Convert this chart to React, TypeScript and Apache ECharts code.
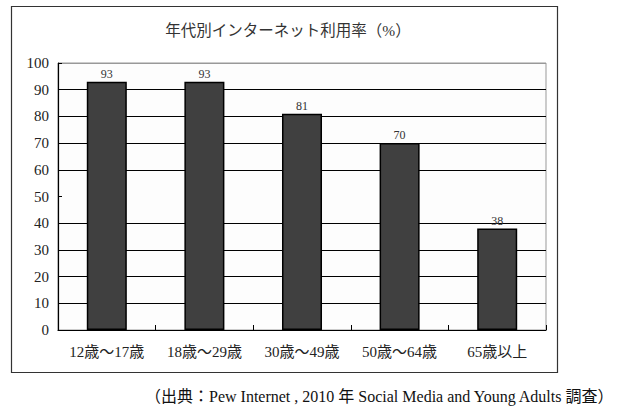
import React, { useEffect, useRef } from 'react';
import * as echarts from 'echarts';

const categories = ['12歳～17歳', '18歳～29歳', '30歳～49歳', '50歳～64歳', '65歳以上'];
const usageRates = [93, 93, 81, 70, 38];
const titleText = '年代別インターネット利用率（%）';
const sourceText = '（出典：Pew Internet , 2010 年 Social Media and Young Adults 調査）';

// gridline colours by tick (0..100); the 50 line is absent in the original
const gridLineColors = ['#000', '#000', '#000', '#000', '#000', 'transparent', '#000', '#000', '#000', '#000', '#999'];

const serif = "'Liberation Serif', 'Noto Sans CJK JP', serif";

const App: React.FC = () => {
  const chartRef = useRef<HTMLDivElement>(null);

  useEffect(() => {
    if (!chartRef.current) return;
    document.body.style.margin = '0';
    const chart = echarts.init(chartRef.current, undefined, { renderer: 'svg' });

    const option: echarts.EChartsOption = {
      animation: false,
      backgroundColor: '#fff',
      textStyle: { fontFamily: serif },
      title: {
        text: titleText,
        left: 283,
        top: 18,
        textAlign: 'center',
        textStyle: { fontFamily: serif, fontSize: 15.5, fontWeight: 'normal', color: '#333' }
      },
      grid: {
        left: 58,
        right: 94,
        top: 63,
        bottom: 88,
        show: true,
        borderColor: '#999',
        borderWidth: 1,
        backgroundColor: '#fdfdfd'
      },
      xAxis: {
        type: 'category',
        data: categories,
        axisLine: { lineStyle: { color: '#000', width: 1.2 } },
        axisTick: { show: true, inside: true, length: 5, lineStyle: { color: '#000' } },
        axisLabel: { fontFamily: serif, fontSize: 15, color: '#222', margin: 14 }
      },
      yAxis: {
        type: 'value',
        min: 0,
        max: 100,
        interval: 10,
        axisLine: { show: true, lineStyle: { color: '#000', width: 1.2 } },
        axisTick: { show: true, inside: true, length: 4, lineStyle: { color: '#000' } },
        axisLabel: { fontFamily: serif, fontSize: 15, color: '#222', margin: 9 },
        splitLine: { show: true, lineStyle: { color: gridLineColors, width: 1 } }
      },
      series: [
        {
          type: 'bar',
          data: usageRates,
          barWidth: '41%',
          itemStyle: { color: '#404040', borderColor: '#000', borderWidth: 1.5 },
          label: {
            show: true,
            position: 'top',
            distance: 2,
            fontFamily: serif,
            fontSize: 12,
            color: '#333'
          }
        }
      ],
      graphic: [
        {
          type: 'rect',
          shape: { x: 11.5, y: 6.5, width: 546, height: 366 },
          style: { fill: 'none', stroke: '#333', lineWidth: 1.2 },
          z: -1
        },
        {
          type: 'text',
          left: 145,
          top: 388,
          style: { text: sourceText, font: `16px ${serif}`, fill: '#111' }
        }
      ]
    };

    chart.setOption(option);
    return () => {
      chart.dispose();
    };
  }, []);

  return <div ref={chartRef} style={{ width: 640, height: 418 }} />;
};

export default App;
